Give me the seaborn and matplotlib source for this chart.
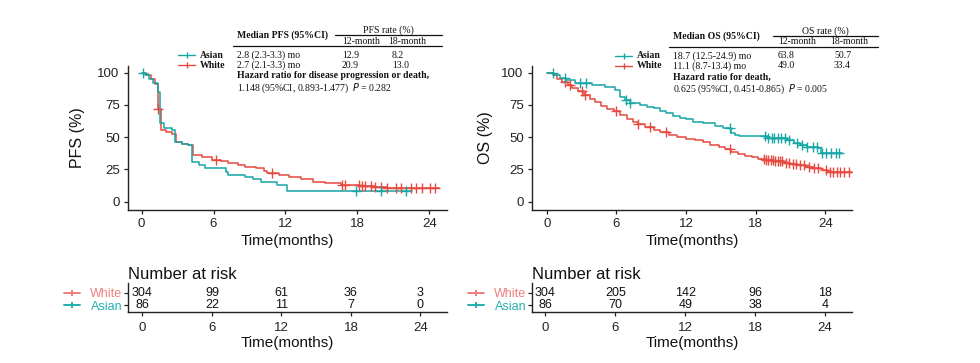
import numpy as np
import pandas as pd
import matplotlib
matplotlib.use('Agg')
import matplotlib.pyplot as plt
from matplotlib.lines import Line2D
import seaborn as sns

# colours
RED = '#E6493F'
TEAL = '#16A6A6'

# ---- PFS step curves (months, %) ----
pfs_asian_t = [0, 0.3, 0.6, 0.95, 1.35, 1.5, 1.9, 2.5, 2.8, 3.4, 3.9, 4.2, 4.8, 5.3, 7.0, 7.2, 8.6, 9.3, 10.0, 11.3, 12.1]
pfs_asian_s = [100, 98, 95, 91.7, 85, 60.7, 57, 55.4, 46.5, 45, 44, 31, 28.4, 25.8, 23, 20.6, 19.5, 18, 15.5, 13, 8.3]
pfs_asian_end = 22.6
pfs_asian_cens = [0.1, 17.9, 20.0, 22.1]

pfs_white_t = [0, 0.4, 0.8, 1.1, 1.4, 1.6, 2.0, 2.5, 2.9, 3.4, 3.9, 4.3, 5.0, 5.9, 6.6, 7.2, 8.0, 8.6, 9.5, 10.2, 10.5, 11.5,
               12.3, 13.3, 14.3, 15.3, 16.6, 18.2, 19.4, 20.5]
pfs_white_s = [100, 98, 95, 91, 72, 55.3, 54, 52.6, 46, 45, 44, 36.2, 34.5, 32.4, 31.2, 29.9, 28.6, 27.3, 25.8, 24, 22, 20.9,
               19.5, 18, 15.5, 14.2, 13, 12, 11.2, 10.4]
pfs_white_end = 24.8
pfs_white_cens = [1.4, 6.2, 10.9, 16.7, 17.0, 18.1, 18.4, 18.6, 19.1, 19.5, 20.0, 20.5, 21.2, 21.6, 22.5, 22.9, 23.4, 24.1, 24.5]

# ---- OS step curves ----
os_asian_t = [0, 0.6, 1.1, 1.7, 2.4, 3.9, 5.0, 5.9, 6.3, 6.7, 7.2, 8.0, 8.6, 9.2, 9.8, 10.3, 10.9, 11.5, 12.0, 12.6, 13.5,
              14.5, 15.2, 15.9, 16.2, 16.6, 19.0, 20.7, 21.3, 21.8, 22.4, 23.4, 23.6]
os_asian_s = [100, 98.5, 95.6, 94.3, 91.8, 90.5, 89.1, 86.6, 81.4, 78.8, 76.3, 75, 73.5, 72.4, 70.5, 68.5, 66.5, 64.6, 63.8,
              61.5, 60.8, 58.5, 56.9, 53, 51.7, 50.7, 49.6, 47.8, 45.3, 44, 42.5, 41.4, 37.5]
os_asian_end = 25.4
os_asian_cens = [0.5, 1.6, 2.9, 3.4, 6.8, 7.2, 15.8, 18.8, 19.1, 19.4, 19.6, 19.9, 20.2, 20.5, 20.9, 21.6, 22.0, 22.4, 22.9,
                 23.3, 23.7, 24.1, 24.5, 24.9, 25.2]

os_white_t = [0, 0.5, 0.9, 1.3, 1.8, 2.2, 2.7, 3.2, 3.7, 4.2, 4.7, 5.2, 5.8, 6.3, 6.9, 7.4, 7.9, 8.5, 9.2, 9.8, 10.5, 11.2,
              12.0, 12.8, 13.5, 14.1, 14.8, 15.4, 15.9, 16.5, 17.1, 17.7, 18.2, 18.8, 19.6, 20.4, 21.0, 21.6, 22.3, 23.0,
              23.6, 24.2]
os_white_s = [100, 98, 95, 92.5, 90.5, 88.5, 85.5, 82.5, 79.5, 77, 74.5, 72, 70, 67.5, 64, 62, 60, 58, 55.5, 54, 52, 50.5,
              49.0, 47.8, 46, 44, 42.3, 40.5, 38.8, 37.2, 35.8, 34.5, 33.4, 32.3, 31.3, 30.2, 29.3, 28.5, 27.3, 26, 24.8, 23]
os_white_end = 26.4
os_white_cens = [1.6, 2.0, 3.0, 3.3, 6.0, 7.9, 8.9, 10.3, 15.75, 18.7, 18.9, 19.1, 19.3, 19.5, 19.7, 19.9, 20.1, 20.3, 20.6,
                 20.9, 21.2, 21.5, 21.8, 22.2, 22.6, 23.0, 23.4, 24.1, 24.4, 24.7, 25.0, 25.3, 25.6, 26.0]

# ---- number at risk ----
risk_times = [0, 6, 12, 18, 24]
pfs_risk_white = [304, 99, 61, 36, 3]
pfs_risk_asian = [86, 22, 11, 7, 0]
os_risk_white = [304, 205, 142, 96, 18]
os_risk_asian = [86, 70, 49, 38, 4]

# ---- annotation tables ----
pfs_median = ['2.8 (2.3-3.3) mo', '2.7 (2.1-3.3) mo']
pfs_rate12 = ['12.9', '20.9']
pfs_rate18 = ['8.2', '13.0']
pfs_hr = '1.148 (95%CI, 0.893-1.477)'
pfs_p = '0.282'
os_median = ['18.7 (12.5-24.9) mo', '11.1 (8.7-13.4) mo']
os_rate12 = ['63.8', '49.0']
os_rate18 = ['50.7', '33.4']
os_hr = '0.625 (95%CI, 0.451-0.865)'
os_p = '0.005'

sns.set_theme(style='white')
plt.rcParams['font.family'] = ['Liberation Sans', 'DejaVu Sans']

W, H = 980, 363
fig = plt.figure(figsize=(9.8, 3.63), dpi=100)


def rect(x0, y0, x1, y1):
    return [x0 / W, 1 - y1 / H, (x1 - x0) / W, (y1 - y0) / H]


def step_df(t, s, end):
    return pd.DataFrame({'t': list(t) + [end], 's': list(s) + [s[-1]]})


def surv_at(t, s, x):
    idx = np.searchsorted(np.array(t), np.array(x), side='right') - 1
    return np.array(s)[idx]


def style_axis(ax):
    for side in ['top', 'right']:
        ax.spines[side].set_visible(False)
    for side in ['left', 'bottom']:
        ax.spines[side].set_color('#222222')
        ax.spines[side].set_linewidth(1.0)
    ax.tick_params(axis='both', which='both', direction='out', length=3, width=0.9,
                   color='#222222', labelcolor='#222222', left=True, bottom=True)


def km_panel(ax, curves, ylabel, xlim, ylpad):
    for t, s, end, cens, col in curves:
        d = step_df(t, s, end)
        sns.lineplot(data=d, x='t', y='s', drawstyle='steps-post', color=col, linewidth=1.1,
                     ax=ax, sort=False, estimator=None)
        cy = surv_at(t, s, cens)
        sns.scatterplot(x=cens, y=cy, marker='+', s=45, color=col, linewidth=1.0, ax=ax, zorder=3)
    style_axis(ax)
    ax.set_xlim(*xlim)
    ax.set_ylim(-6.4, 105.2)
    ax.set_xticks([0, 6, 12, 18, 24])
    ax.set_yticks([0, 25, 50, 75, 100])
    ax.tick_params(labelsize=9.5, pad=3)
    ax.set_xlabel('Time(months)', fontsize=11, color='#111111', labelpad=3)
    ax.set_ylabel(ylabel, fontsize=11.5, color='#111111', labelpad=ylpad)


def risk_panel(ax, white, asian, xlim):
    style_axis(ax)
    ax.set_xlim(*xlim)
    ax.set_ylim(-0.58, 1.83)
    for x, w, a in zip(risk_times, white, asian):
        ax.text(x, 1, str(w), ha='center', va='center', fontsize=9, color='#111111')
        ax.text(x, 0, str(a), ha='center', va='center', fontsize=9, color='#111111')
    ax.set_xticks(risk_times)
    ax.set_yticks([1, 0])
    ax.set_yticklabels(['White', 'Asian'])
    ax.get_yticklabels()[0].set_color('#F07E7E')
    ax.get_yticklabels()[1].set_color('#22AFAF')
    ax.tick_params(axis='y', labelsize=9, pad=1)
    ax.tick_params(axis='x', labelsize=9.5, pad=4)
    ax.set_xlabel('Time(months)', fontsize=11, color='#111111', labelpad=2)
    ax.text(0, 1.05, 'Number at risk', transform=ax.transAxes, ha='left', va='bottom',
            fontsize=12, color='#111111')


def glyph(x0, x1, y, col, lw=1.0):
    fig.add_artist(Line2D([x0 / W, (x0 + x1) / 2 / W, x1 / W], [1 - y / H] * 3, color=col, lw=lw,
                          marker='|', markevery=[1], markersize=5, markeredgewidth=lw))


def table(x_lab, x_med, x_12, x_18, y_head, y_r1, head_med, head_rate, rate_x, rate_x1,
          meds, r12, r18, hr_title, hr_text, p):
    serif = dict(family=['Liberation Serif', 'DejaVu Serif'], fontsize=7, color='#111111')
    fig.text(x_med / W, 1 - (y_head + 3) / H, head_med, ha='left', va='center', weight='bold', **serif)
    fig.text((rate_x + rate_x1) / 2 / W, 1 - (y_head - 2) / H, head_rate, ha='center', va='center', **serif)
    fig.add_artist(Line2D([rate_x / W, rate_x1 / W], [1 - (y_head + 3) / H] * 2, color='#111111', lw=0.9))
    fig.text(x_12 / W, 1 - (y_head + 9) / H, '12-month', ha='left', va='center', **serif)
    fig.text(x_18 / W, 1 - (y_head + 9) / H, '18-month', ha='left', va='center', **serif)
    fig.add_artist(Line2D([(x_med - 4) / W, rate_x1 / W], [1 - (y_head + 14) / H] * 2, color='#111111', lw=0.9))
    for i, (lab, col) in enumerate([('Asian', TEAL), ('White', RED)]):
        yy = y_r1 + i * 10
        glyph(x_lab - 22, x_lab - 5, yy, col)
        fig.text(x_lab / W, 1 - yy / H, lab, ha='left', va='center', weight='bold', **serif)
        fig.text(x_med / W, 1 - yy / H, meds[i], ha='left', va='center', **serif)
        fig.text(x_12 / W, 1 - yy / H, r12[i], ha='left', va='center', **serif)
        fig.text((x_18 + 4) / W, 1 - yy / H, r18[i], ha='left', va='center', **serif)
    fig.text(x_med / W, 1 - (y_r1 + 21) / H, hr_title, ha='left', va='center', weight='bold', **serif)
    fig.text(x_med / W, 1 - (y_r1 + 33) / H, hr_text + '  $\\it{P}$ = ' + p, ha='left', va='center', **serif)


# main KM panels
ax1 = fig.add_axes(rect(128, 66, 447, 210))
km_panel(ax1, [(pfs_white_t, pfs_white_s, pfs_white_end, pfs_white_cens, RED),
               (pfs_asian_t, pfs_asian_s, pfs_asian_end, pfs_asian_cens, TEAL)],
         'PFS (%)', (-1.14, 25.48), 9)
ax2 = fig.add_axes(rect(532, 66, 852, 210))
km_panel(ax2, [(os_white_t, os_white_s, os_white_end, os_white_cens, RED),
               (os_asian_t, os_asian_s, os_asian_end, os_asian_cens, TEAL)],
         'OS (%)', (-1.27, 26.3), 6)

# risk tables
r1 = fig.add_axes(rect(128, 283, 447, 312))
risk_panel(r1, pfs_risk_white, pfs_risk_asian, (-1.25, 26.3))
r2 = fig.add_axes(rect(532, 283, 852, 312))
risk_panel(r2, os_risk_white, os_risk_asian, (-1.14, 26.3))
glyph(64, 80, 293, '#F07E7E', lw=1.4)
glyph(64, 80, 305, '#22AFAF', lw=1.4)
glyph(468, 484, 293, '#F07E7E', lw=1.4)
glyph(468, 484, 305, '#22AFAF', lw=1.4)

# annotation tables
table(200, 237, 342, 388, 32, 55, 'Median PFS (95%CI)', 'PFS rate (%)', 335, 442,
      pfs_median, pfs_rate12, pfs_rate18, 'Hazard ratio for disease progression or death,', pfs_hr, pfs_p)
table(637, 673, 778, 830, 33, 56, 'Median OS (95%CI)', 'OS rate (%)', 773, 878,
      os_median, os_rate12, os_rate18, 'Hazard ratio for death,', os_hr, os_p)

fig.savefig('out.png', dpi=100)
